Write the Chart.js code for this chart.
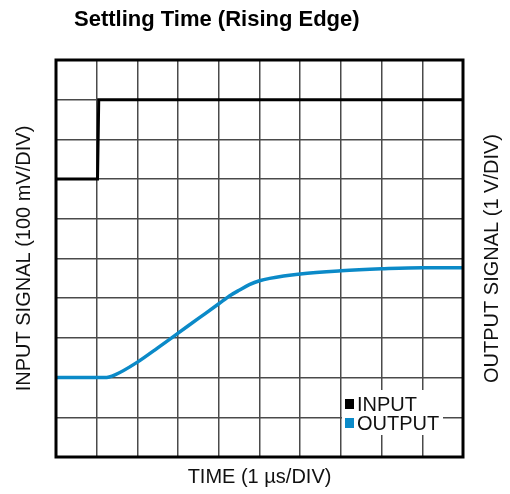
<!DOCTYPE html>
<html>
<head>
<meta charset="utf-8">
<script src="https://cdn.jsdelivr.net/npm/chart.js@4"></script>
<style>
  html, body { margin: 0; padding: 0; background: #fff; }
  #wrap { width: 510px; height: 494px; position: relative; }
</style>
</head>
<body>
<div id="wrap"><canvas id="c" width="510" height="494"></canvas></div>
<script>
const chartTitle = "Settling Time (Rising Edge)";
const xTitle = "TIME (1 µs/DIV)";
const yLeftTitle = "INPUT SIGNAL (100 mV/DIV)";
const yRightTitle = "OUTPUT SIGNAL (1 V/DIV)";
const seriesNames = ["INPUT", "OUTPUT"];
const seriesColors = ["#000000", "#0b8ac8"];

// time in divisions, signal in divisions (0 = bottom grid line)
const inputTime = [0, 1.02, 1.05, 10];
const inputValue = [7, 7, 9, 9];
const outputTime = [0, 1.2, 1.45, 2.0, 2.5, 3.0, 3.5, 4.0, 4.3, 4.5, 4.75, 5.0, 5.25, 6.0, 7.0, 8.0, 9.0, 10];
const outputValue = [2, 2, 2.07, 2.39, 2.75, 3.12, 3.49, 3.86, 4.08, 4.2, 4.34, 4.44, 4.5, 4.61, 4.69, 4.74, 4.77, 4.77];

const FONT = "'Liberation Sans', Arial, Helvetica, sans-serif";

const toPts = (xs, ys) => xs.map((x, i) => ({ x: x, y: ys[i] }));

const extras = {
  id: 'extras',
  afterDatasetsDraw(chart) {
    const ctx = chart.ctx;
    const a = chart.chartArea;
    ctx.save();
    // legend box
    ctx.fillStyle = '#fff';
    ctx.fillRect(342, 390, 101, 45);
    ctx.font = '20px ' + FONT;
    ctx.textBaseline = 'middle';
    ctx.textAlign = 'left';
    const rows = [404, 423];
    seriesNames.forEach((n, i) => {
      ctx.fillStyle = seriesColors[i];
      ctx.fillRect(345, rows[i] - 5, 9, 10);
      ctx.fillStyle = '#111';
      ctx.fillText(n, 357, rows[i] + 1);
    });
    // frame
    ctx.strokeStyle = '#000';
    ctx.lineWidth = 3;
    ctx.strokeRect(a.left, a.top, a.right - a.left, a.bottom - a.top);
    // title
    ctx.fillStyle = '#000';
    ctx.font = 'bold 22px ' + FONT;
    ctx.textAlign = 'left';
    ctx.textBaseline = 'middle';
    ctx.fillText(chartTitle, 74, 20);
    // right title
    ctx.font = '20px ' + FONT;
    ctx.fillStyle = '#111';
    ctx.translate(492, (a.top + a.bottom) / 2);
    ctx.rotate(-Math.PI / 2);
    ctx.textAlign = 'center';
    ctx.fillText(yRightTitle, 0, 0);
    ctx.restore();
  }
};

const gridCommon = { color: '#4a4a4a', lineWidth: 1.5, drawTicks: false };

new Chart(document.getElementById('c'), {
  type: 'line',
  data: {
    datasets: [
      { label: seriesNames[0], data: toPts(inputTime, inputValue), borderColor: seriesColors[0], borderWidth: 3, pointRadius: 0, tension: 0, borderJoinStyle: 'miter' },
      { label: seriesNames[1], data: toPts(outputTime, outputValue), borderColor: seriesColors[1], borderWidth: 3.5, pointRadius: 0, cubicInterpolationMode: 'monotone' }
    ]
  },
  options: {
    responsive: false,
    animation: false,
    layout: { padding: { top: 60, right: 47, left: 0, bottom: 0 } },
    plugins: { legend: { display: false }, title: { display: false }, tooltip: { enabled: false } },
    scales: {
      x: {
        type: 'linear', min: 0, max: 10,
        ticks: { display: false, stepSize: 1 },
        grid: gridCommon,
        border: { display: false },
        title: { display: true, text: xTitle, color: '#111', font: { family: FONT, size: 20 }, padding: { top: 0, bottom: 5 } },
        afterFit(s) { s.height = 37; }
      },
      y: {
        type: 'linear', min: 0, max: 10,
        ticks: { display: false, stepSize: 1 },
        grid: gridCommon,
        border: { display: false },
        title: { display: true, text: yLeftTitle, color: '#111', font: { family: FONT, size: 20 }, padding: { top: 12, bottom: 0 } },
        afterFit(s) { s.width = 56; }
      }
    }
  },
  plugins: [extras]
});
</script>
</body>
</html>
